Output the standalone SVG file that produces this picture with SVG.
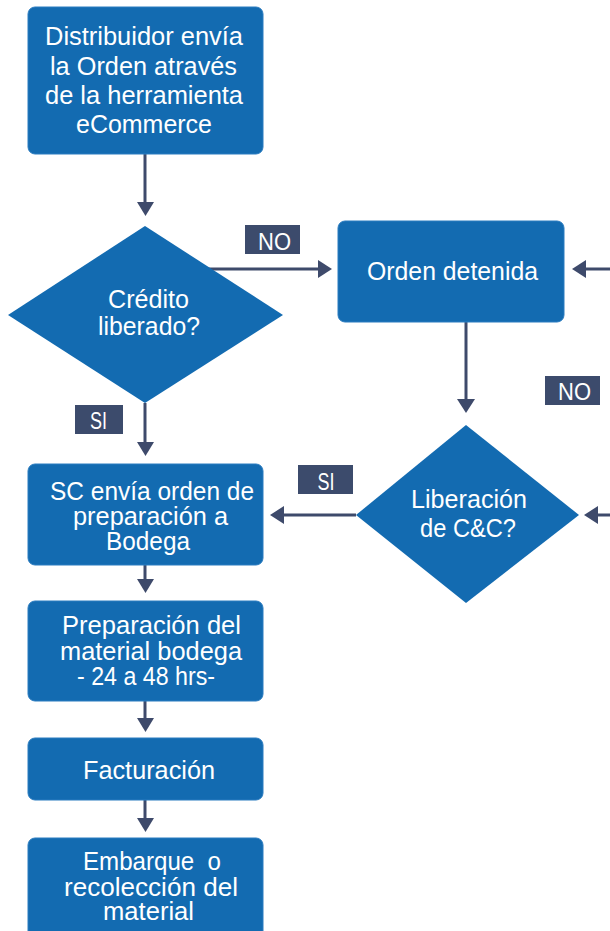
<svg xmlns="http://www.w3.org/2000/svg" width="610" height="931" viewBox="0 0 610 931">
<defs>
<style>
.box{fill:#136bb1;stroke:#2b7cc0;stroke-width:1}
.t{fill:#ffffff;font-family:"Liberation Sans",sans-serif;font-size:25.5px;text-anchor:middle}
.lbl{fill:#3c4b6c}
.lt{fill:#ffffff;font-family:"Liberation Sans",sans-serif;font-size:23px;text-anchor:middle}
.c{stroke:#3e4a6b;stroke-width:3;fill:none}
.ah{fill:#3e4a6b}
</style>
</defs>

<g id="connectors">
<line class="c" x1="145" y1="154" x2="145" y2="203"/><polygon class="ah" points="137,202 154,202 145.5,216"/>
<line class="c" x1="207" y1="269" x2="320" y2="269"/><polygon class="ah" points="318,260 318,278 332,269"/>
<line class="c" x1="610" y1="269" x2="585" y2="269"/><polygon class="ah" points="586,260 586,278 572,269"/>
<line class="c" x1="466" y1="322" x2="466" y2="400"/><polygon class="ah" points="457,399 475,399 466,413"/>
<line class="c" x1="145" y1="403" x2="145" y2="443"/><polygon class="ah" points="137,442 154,442 145.5,456"/>
<line class="c" x1="356" y1="515" x2="283" y2="515"/><polygon class="ah" points="284,506 284,524 270,515"/>
<line class="c" x1="610" y1="515" x2="597" y2="515"/><polygon class="ah" points="598,506 598,524 584,515"/>
<line class="c" x1="145" y1="565" x2="145" y2="580"/><polygon class="ah" points="137,579 154,579 145.5,593"/>
<line class="c" x1="145" y1="701" x2="145" y2="719"/><polygon class="ah" points="137,718 154,718 145.5,732"/>
<line class="c" x1="145" y1="800" x2="145" y2="819"/><polygon class="ah" points="137,818 154,818 145.5,832"/>
</g>

<g id="n1">
<rect class="box" x="28" y="7" width="235" height="147" rx="7"/>
<text class="t" x="144" y="45" textLength="198" lengthAdjust="spacingAndGlyphs">Distribuidor envía</text>
<text class="t" x="143.5" y="75" textLength="187" lengthAdjust="spacingAndGlyphs">la Orden através</text>
<text class="t" x="144" y="104" textLength="198" lengthAdjust="spacingAndGlyphs">de la herramienta</text>
<text class="t" x="144" y="133" textLength="136" lengthAdjust="spacingAndGlyphs">eCommerce</text>
</g>

<g id="d1">
<polygon class="box" points="145,226 283,315 145,403 8,315" style="stroke:none"/>
<text class="t" x="148.5" y="308" textLength="81" lengthAdjust="spacingAndGlyphs">Crédito</text>
<text class="t" x="149" y="335" textLength="102" lengthAdjust="spacingAndGlyphs">liberado?</text>
</g>

<g id="l_no1"><rect class="lbl" x="245" y="225" width="55" height="29"/><text class="lt" x="274.5" y="250" textLength="33" lengthAdjust="spacingAndGlyphs">NO</text></g>

<g id="n_detenida">
<rect class="box" x="338" y="221" width="226" height="101" rx="7"/>
<text class="t" x="452.5" y="280" textLength="171" lengthAdjust="spacingAndGlyphs">Orden detenida</text>
</g>

<g id="l_no2"><rect class="lbl" x="545" y="376" width="55" height="29"/><text class="lt" x="574.5" y="400" textLength="33" lengthAdjust="spacingAndGlyphs">NO</text></g>

<g id="d2">
<polygon class="box" points="466,425 579,515 466,603 356,515" style="stroke:none"/>
<text class="t" x="469" y="508" textLength="116" lengthAdjust="spacingAndGlyphs">Liberación</text>
<text class="t" x="468" y="537" textLength="96" lengthAdjust="spacingAndGlyphs">de C&amp;C?</text>
</g>

<g id="l_si1"><rect class="lbl" x="75" y="405" width="48" height="29"/><text class="lt" x="98.5" y="429" textLength="17" lengthAdjust="spacingAndGlyphs">SI</text></g>
<g id="l_si2"><rect class="lbl" x="298" y="465" width="55" height="29"/><text class="lt" x="326" y="490" textLength="17" lengthAdjust="spacingAndGlyphs">SI</text></g>

<g id="n_sc">
<rect class="box" x="28" y="464" width="235" height="101" rx="7"/>
<text class="t" x="152" y="500" textLength="204" lengthAdjust="spacingAndGlyphs">SC envía orden de</text>
<text class="t" x="150.5" y="525" textLength="155" lengthAdjust="spacingAndGlyphs">preparación a</text>
<text class="t" x="148" y="550" textLength="84" lengthAdjust="spacingAndGlyphs">Bodega</text>
</g>

<g id="n_prep">
<rect class="box" x="28" y="601" width="235" height="100" rx="7"/>
<text class="t" x="151.5" y="634" textLength="179" lengthAdjust="spacingAndGlyphs">Preparación del</text>
<text class="t" x="151" y="660" textLength="182" lengthAdjust="spacingAndGlyphs">material bodega</text>
<text class="t" x="146" y="685" textLength="138" lengthAdjust="spacingAndGlyphs">- 24 a 48 hrs-</text>
</g>

<g id="n_fact">
<rect class="box" x="28" y="738" width="235" height="62" rx="7"/>
<text class="t" x="149" y="779" textLength="132" lengthAdjust="spacingAndGlyphs">Facturación</text>
</g>

<g id="n_emb">
<rect class="box" x="28" y="838" width="235" height="100" rx="7"/>
<text class="t" x="152" y="870" textLength="138" lengthAdjust="spacingAndGlyphs" style="white-space:pre">Embarque  o</text>
<text class="t" x="151" y="896" textLength="174" lengthAdjust="spacingAndGlyphs">recolección del</text>
<text class="t" x="148.5" y="920" textLength="91" lengthAdjust="spacingAndGlyphs">material</text>
</g>
</svg>
